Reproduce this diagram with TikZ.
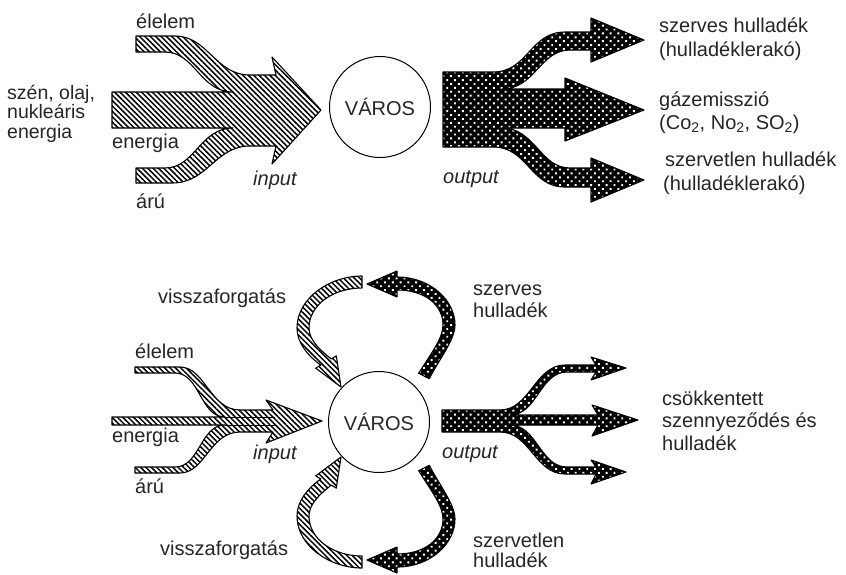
\documentclass[tikz,border=0pt]{standalone}
\usepackage{fontspec}
\setmainfont{Liberation Sans}
\usetikzlibrary{patterns.meta}
\begin{document}
\begin{tikzpicture}[x=1pt,y=-1pt,
  hatch/.style={draw=black, line width=1.1pt, line join=round,
    pattern={Lines[angle=-45,distance=3.8pt,line width=1.5pt]}, pattern color=black},
  dotty/.style={draw=black, line width=1.1pt, line join=round,
    preaction={fill=black},
    pattern={Dots[radius=1.35pt,distance=5.5pt,angle=45]}, pattern color=white},
  lbl/.style={font=\fontsize{20}{22}\selectfont, text=black!85, inner sep=0pt, anchor=base west},
  lbls/.style={lbl, font=\fontsize{19.5}{21}\selectfont},
  ital/.style={lbl, font=\fontsize{20}{22}\selectfont\itshape},
  city/.style={circle, draw, line width=1pt, minimum size=101pt, inner sep=0pt,
    font=\fontsize{20}{22}\selectfont, text=black!85}]
\fill[white] (0,0) rectangle (846,574);
\useasboundingbox (0,0) rectangle (846,574);

% ---------- top half ----------
\node[city] (varos1) at (380,107) {VÁROS};

\path[hatch] (112,92) -- (233,92) .. controls (200,92) and (195,52) .. (165,52)
  -- (136,52) -- (136,36) -- (175,36) .. controls (208,36) and (215,75) .. (250,75)
  -- (276,75) -- (272,57) -- (321,110) -- (272,164) -- (276,146) -- (250,146)
  .. controls (215,146) and (208,183) .. (172,183) -- (136,183) -- (136,168)
  -- (165,168) .. controls (195,168) and (200,128) .. (233,128) -- (112,128) -- cycle;

\path[dotty] (443,72) -- (493,72) .. controls (528,72) and (530,32) .. (565,32)
  -- (591,32) -- (591,18) -- (644,40) -- (591,62) -- (591,50) -- (570,50)
  .. controls (540,50) and (535,89) .. (502,89) -- (565,89) -- (565,78) -- (644,110)
  -- (565,141) -- (565,128) -- (502,128) .. controls (535,128) and (540,168) .. (570,168)
  -- (591,168) -- (591,158) -- (644,180) -- (591,202) -- (591,187) -- (565,187)
  .. controls (530,187) and (528,147) .. (493,147) -- (443,147) -- cycle;

\node[lbl] (elelem1) at (136,28) {élelem};
\node[lbls] (szen) at (7,99) {szén, olaj,};
\node[lbls] (nukl) at (7,118.5) {nukleáris};
\node[lbls] (energ0) at (7,138) {energia};
\node[lbl] (energ1) at (112,148) {energia};
\node[lbl] (aru1) at (136,208) {árú};
\node[ital] (in1) at (253,185) {input};
\node[ital] (out1) at (443,183) {output};
\node[lbl] (r1a) at (659,32) {szerves hulladék};
\node[lbl] (r1b) at (659,56) {(hulladéklerakó)};
\node[lbl] (r2a) at (659,106) {gázemisszió};
\node[lbl] (r2b) at (659,129) {(Co\textsubscript{2}, No\textsubscript{2}, SO\textsubscript{2})};
\node[lbl] (r3a) at (665,166) {szervetlen hulladék};
\node[lbl] (r3b) at (663,190) {(hulladéklerakó)};

% ---------- bottom half ----------
\node[city] (varos2) at (379,422) {VÁROS};

\path[hatch] (112,417) -- (225,417) .. controls (200,417) and (200,373) .. (175,373)
  -- (135,373) -- (135,367) -- (180,367) .. controls (205,367) and (210,410) .. (240,410)
  -- (273,410) -- (266,400) -- (322,421) -- (266,443) -- (273,432) -- (240,432)
  .. controls (210,432) and (205,473) .. (180,473) -- (135,473) -- (135,467)
  -- (175,467) .. controls (200,467) and (200,425) .. (225,425) -- (112,425) -- cycle;
\draw[line width=1pt] (225,417) -- (275,417) (225,425) -- (275,425);

\path[dotty] (442,410) -- (500,410) .. controls (530,410) and (535,365) .. (565,365)
  -- (596,365) -- (591,357) -- (626,368) -- (591,380) -- (596,372) -- (567,372)
  .. controls (540,372) and (537,415) .. (510,415) -- (598,415) -- (592,405) -- (638,420)
  -- (592,436) -- (598,425) -- (510,425) .. controls (537,425) and (540,467) .. (567,467)
  -- (596,467) -- (591,460) -- (626,472) -- (591,484) -- (596,474) -- (565,474)
  .. controls (535,474) and (530,432) .. (500,432) -- (442,432) -- cycle;

% recycling arcs (upper)
\path[hatch] (362,276) .. controls (330,276) and (297,298) .. (297,328)
  .. controls (297,343) and (308,356) .. (320.8,365.1) -- (315.7,368.1) -- (341,387)
  -- (336.3,355.9) -- (331.2,358.9) .. controls (320,350) and (309,340) .. (309,328)
  .. controls (309,305) and (333,288) .. (362,288) -- cycle;
\path[dotty] (429.3,378.7) .. controls (438,361) and (455,340) .. (455,325)
  .. controls (455,300) and (430,277) .. (397,277) -- (397,271) -- (367,284)
  -- (397,297) -- (397,290) .. controls (425,290) and (443,305) .. (443,325)
  .. controls (443,338) and (432,352) .. (418.7,373.3) -- cycle;
% recycling arcs (lower)
\path[hatch] (362,568) .. controls (330,568) and (297,546) .. (297,516)
  .. controls (297,501) and (308,488) .. (320.8,478.9) -- (315.7,475.9) -- (341,457)
  -- (336.3,488.1) -- (331.2,485.1) .. controls (320,494) and (309,504) .. (309,516)
  .. controls (309,539) and (333,556) .. (362,556) -- cycle;
\path[dotty] (429.3,465.3) .. controls (438,483) and (455,504) .. (455,519)
  .. controls (455,544) and (430,567) .. (397,567) -- (397,573) -- (367,560)
  -- (397,547) -- (397,554) .. controls (425,554) and (443,539) .. (443,519)
  .. controls (443,506) and (432,492) .. (418.7,470.7) -- cycle;

\node[lbl] (visz1) at (158,303) {visszaforgatás};
\node[lbl] (elelem2) at (135,358) {élelem};
\node[lbl] (energ2) at (112,442) {energia};
\node[ital] (in2) at (253,459) {input};
\node[lbl] (aru2) at (135,493) {árú};
\node[lbl] (visz2) at (160,555) {visszaforgatás};
\node[lbl] (szerv2a) at (473,295) {szerves};
\node[lbl] (szerv2b) at (473,317) {hulladék};
\node[ital] (out2) at (442,458) {output};
\node[lbl] (szt2a) at (473,547) {szervetlen};
\node[lbl] (szt2b) at (473,567) {hulladék};
\node[lbl] (cs1) at (662,405) {csökkentett};
\node[lbl] (cs2) at (662,427) {szennyeződés és};
\node[lbl] (cs3) at (662,450) {hulladék};
\end{tikzpicture}
\end{document}
